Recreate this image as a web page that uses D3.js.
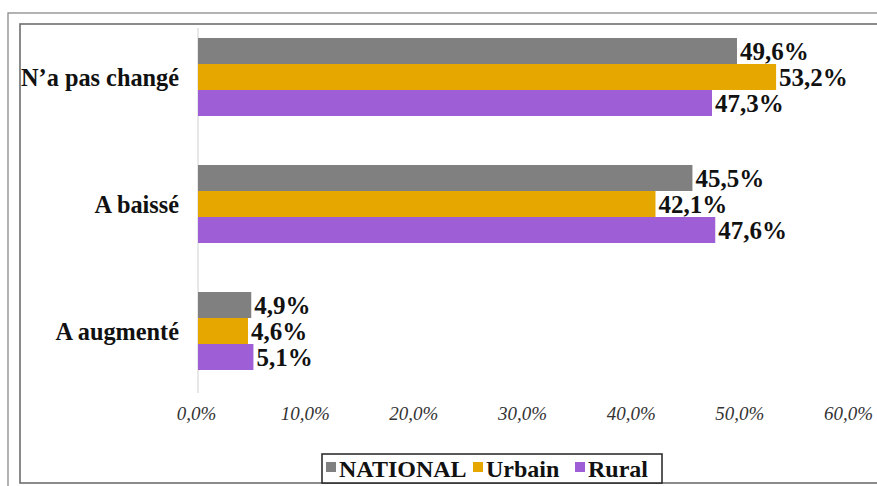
<!DOCTYPE html>
<html><head><meta charset="utf-8">
<script src="https://cdn.jsdelivr.net/npm/d3@7"></script>
</head><body style="margin:0">
<svg id="chart" width="877" height="486" font-family="'Liberation Serif', 'Times New Roman', Tinos, serif"></svg>
<script>
const categories = ["N\u2019a pas changé", "A baissé", "A augmenté"];
const seriesNames = ["NATIONAL", "Urbain", "Rural"];
const national = [49.6, 45.5, 4.9];
const urbain = [53.2, 42.1, 4.6];
const rural = [47.3, 47.6, 5.1];
const tickValues = [0, 10, 20, 30, 40, 50, 60];
const colors = ["#808080", "#E6A800", "#9E5ED6"];

const seriesValues = [national, urbain, rural];
const data = categories.map((c, i) => ({cat: c, vals: seriesNames.map((s, j) => ({s, v: seriesValues[j][i], j}))}));

const svg = d3.select("#chart");
const fmt = v => v.toFixed(1).replace(".", ",") + "%";

// frames
svg.append("rect").attr("x", 8).attr("y", 13).attr("width", 900).attr("height", 500)
  .attr("fill", "none").attr("stroke", "#8a8a8a").attr("stroke-width", 1.3);
svg.append("rect").attr("x", 20).attr("y", 24).attr("width", 900).attr("height", 459)
  .attr("fill", "none").attr("stroke", "#6e6e6e").attr("stroke-width", 1.6);

const x = d3.scaleLinear().domain([0, 60]).range([198, 850]);
const y0 = d3.scaleBand().domain(categories).range([13.5, 394.5]).padding(0);
const groupH = 78;
const y1 = d3.scaleBand().domain(seriesNames).range([0, groupH]).padding(0);

// vertical axis line
svg.append("line").attr("x1", x(0)).attr("x2", x(0)).attr("y1", 28).attr("y2", 393)
  .attr("stroke", "#d0d0d0").attr("stroke-width", 1);

const g = svg.selectAll("g.cat").data(data).join("g").attr("class", "cat")
  .attr("transform", d => `translate(0,${y0(d.cat) + (y0.bandwidth() - groupH) / 2})`);

g.selectAll("rect").data(d => d.vals).join("rect")
  .attr("x", x(0)).attr("y", d => y1(d.s)).attr("width", d => x(d.v) - x(0))
  .attr("height", y1.bandwidth()).attr("fill", d => colors[d.j]);

g.selectAll("text.val").data(d => d.vals).join("text").attr("class", "val")
  .attr("x", d => x(d.v) + 3).attr("y", d => y1(d.s) + y1.bandwidth() / 2 + 8.5)
  .attr("font-weight", "bold").attr("font-size", 25).attr("fill", "#111").text(d => fmt(d.v));

// category labels
svg.selectAll("text.cat").data(categories).join("text").attr("class", "cat")
  .attr("x", 179).attr("y", d => y0(d) + y0.bandwidth() / 2 + 8.5)
  .attr("text-anchor", "end").attr("font-weight", "bold")
  .attr("font-size", 24.3).attr("fill", "#111").text(d => d);

// x tick labels
const xAxis = d3.axisBottom(x).tickValues(tickValues).tickSize(0).tickPadding(0)
  .tickFormat(v => v.toFixed(1).replace(".", ",") + "%");
const ax = svg.append("g").attr("transform", "translate(-2,406)").call(xAxis)
  .attr("font-family", null).attr("font-size", null);
ax.select(".domain").remove();
ax.selectAll("text").attr("font-style", "italic").attr("font-size", 19).attr("fill", "#333");

// legend
const lg = svg.append("g");
lg.append("rect").attr("x", 322).attr("y", 454).attr("width", 340).attr("height", 29)
  .attr("fill", "#fff").attr("stroke", "#222").attr("stroke-width", 1.5);
const legX = [326, 473, 575];
seriesNames.forEach((s, j) => {
  lg.append("rect").attr("x", legX[j]).attr("y", 462).attr("width", 10).attr("height", 10).attr("fill", colors[j]);
  lg.append("text").attr("x", legX[j] + 13).attr("y", 477)
    .attr("font-weight", "bold").attr("font-size", 24)
    .attr("fill", "#111").text(s);
});
</script>
</body></html>
